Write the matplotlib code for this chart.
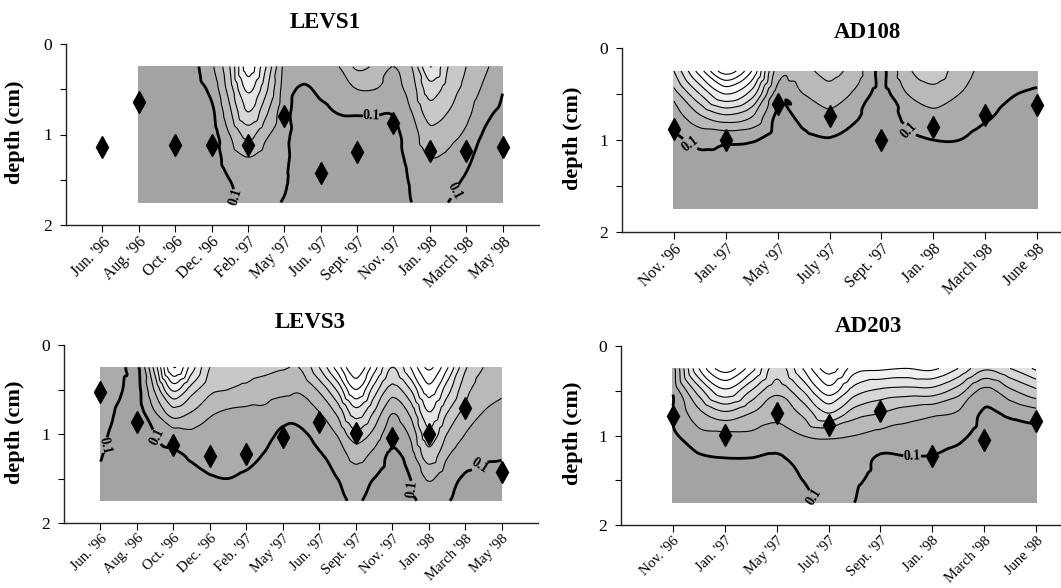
import numpy as np
import matplotlib
matplotlib.use("Agg")
import matplotlib.pyplot as plt
import matplotlib.tri as mtri

plt.rcParams['font.family'] = ['Liberation Serif', 'DejaVu Serif']

# ---------------- data ----------------
depth_rows = [0.25, 0.5, 0.75, 1.0, 1.25, 1.5, 1.75]

# LEVS1
levs1_dates = ["Jun. '96", "Aug. '96", "Oct. '96", "Dec. '96", "Feb. '97", "May '97",
               "Jun. '97", "Sept. '97", "Nov. '97", "Jan. '98", "March '98", "May '98"]
levs1_diamond_depth = [1.14, 0.64, 1.12, 1.12, 1.12, 0.80, 1.42, 1.19, 0.87, 1.18, 1.18, 1.14]
levs1_grid_cols = [2.0, 2.5, 3.0, 3.5, 4.0, 4.5, 5.0, 5.5, 6.0, 6.5, 7.0,
                   7.5, 8.0, 8.5, 9.0, 9.5, 10.0, 10.5, 11.0, 11.5, 12.0]
levs1_field = [  # one list per grid column, values at depth_rows
    [0.06, 0.06, 0.06, 0.05, 0.05, 0.05, 0.05],
    [0.06, 0.06, 0.06, 0.05, 0.05, 0.05, 0.05],
    [0.07, 0.06, 0.06, 0.05, 0.05, 0.05, 0.05],
    [0.08, 0.07, 0.06, 0.05, 0.05, 0.05, 0.05],
    [0.18, 0.13, 0.08, 0.06, 0.05, 0.05, 0.05],
    [0.40, 0.35, 0.28, 0.20, 0.15, 0.10, 0.08],
    [0.75, 0.62, 0.50, 0.33, 0.20, 0.15, 0.12],
    [0.50, 0.42, 0.32, 0.22, 0.16, 0.13, 0.11],
    [0.18, 0.16, 0.14, 0.13, 0.12, 0.11, 0.095],
    [0.14, 0.09, 0.06, 0.05, 0.05, 0.05, 0.05],
    [0.16, 0.12, 0.08, 0.06, 0.05, 0.05, 0.05],
    [0.20, 0.15, 0.105, 0.07, 0.06, 0.05, 0.05],
    [0.32, 0.20, 0.11, 0.07, 0.06, 0.05, 0.05],
    [0.28, 0.20, 0.11, 0.07, 0.06, 0.05, 0.05],
    [0.20, 0.17, 0.11, 0.08, 0.07, 0.06, 0.05],
    [0.30, 0.25, 0.20, 0.15, 0.13, 0.11, 0.10],
    [0.60, 0.45, 0.35, 0.27, 0.20, 0.15, 0.12],
    [0.40, 0.35, 0.30, 0.24, 0.18, 0.13, 0.10],
    [0.30, 0.27, 0.23, 0.18, 0.12, 0.09, 0.07],
    [0.22, 0.18, 0.13, 0.09, 0.07, 0.06, 0.05],
    [0.14, 0.105, 0.08, 0.06, 0.05, 0.05, 0.05],
]

# AD108
ad108_dates = ["Nov. '96", "Jan. '97", "May '97", "July '97", "Sept. '97",
               "Jan. '98", "March '98", "June '98"]
ad108_diamond_depth = [0.88, 1.00, 0.61, 0.74, 1.00, 0.86, 0.73, 0.62]
ad108_grid_cols = [1.0, 1.5, 2.0, 2.5, 3.0, 3.5, 4.0, 4.5, 5.0, 5.5, 6.0, 6.5, 7.0, 7.5, 8.0]
ad108_field = [
    [0.40, 0.25, 0.14, 0.07, 0.06, 0.05, 0.05],
    [0.75, 0.50, 0.28, 0.13, 0.08, 0.06, 0.05],
    [1.05, 0.70, 0.37, 0.12, 0.07, 0.06, 0.05],
    [0.80, 0.55, 0.30, 0.11, 0.07, 0.06, 0.05],
    [0.25, 0.15, 0.08, 0.06, 0.05, 0.05, 0.05],
    [0.27, 0.20, 0.13, 0.08, 0.06, 0.05, 0.05],
    [0.33, 0.26, 0.17, 0.095, 0.07, 0.05, 0.05],
    [0.25, 0.18, 0.11, 0.07, 0.06, 0.05, 0.05],
    [0.085, 0.07, 0.06, 0.05, 0.05, 0.05, 0.05],
    [0.28, 0.20, 0.12, 0.08, 0.06, 0.05, 0.05],
    [0.35, 0.26, 0.17, 0.10, 0.07, 0.05, 0.05],
    [0.25, 0.20, 0.15, 0.10, 0.07, 0.05, 0.05],
    [0.17, 0.14, 0.11, 0.07, 0.06, 0.05, 0.05],
    [0.14, 0.105, 0.08, 0.06, 0.05, 0.05, 0.05],
    [0.13, 0.09, 0.07, 0.06, 0.05, 0.05, 0.05],
]

# LEVS3
levs3_dates = levs1_dates
levs3_diamond_depth = [0.53, 0.86, 1.12, 1.25, 1.23, 1.03, 0.86, 0.99, 1.04, 1.00, 0.71, 1.43]
levs3_grid_cols = [1.0, 1.5, 2.0, 2.5, 3.0, 3.5, 4.0, 4.5, 5.0, 5.5, 6.0, 6.5,
                   7.0, 7.5, 8.0, 8.5, 9.0, 9.5, 10.0, 10.5, 11.0, 11.5, 12.0]
levs3_field = [
    [0.16, 0.15, 0.14, 0.125, 0.105, 0.085, 0.07],
    [0.14, 0.115, 0.09, 0.07, 0.06, 0.06, 0.06],
    [0.08, 0.07, 0.06, 0.05, 0.05, 0.05, 0.05],
    [0.45, 0.32, 0.20, 0.10, 0.07, 0.06, 0.05],
    [0.90, 0.62, 0.36, 0.16, 0.08, 0.07, 0.06],
    [0.65, 0.45, 0.30, 0.18, 0.11, 0.08, 0.07],
    [0.40, 0.33, 0.22, 0.16, 0.13, 0.095, 0.08],
    [0.34, 0.30, 0.19, 0.15, 0.13, 0.10, 0.08],
    [0.34, 0.28, 0.18, 0.15, 0.12, 0.09, 0.07],
    [0.33, 0.25, 0.18, 0.13, 0.095, 0.08, 0.07],
    [0.31, 0.23, 0.14, 0.085, 0.07, 0.06, 0.06],
    [0.31, 0.22, 0.14, 0.09, 0.07, 0.06, 0.06],
    [0.50, 0.32, 0.20, 0.13, 0.09, 0.07, 0.06],
    [0.75, 0.52, 0.33, 0.21, 0.14, 0.10, 0.08],
    [1.00, 0.80, 0.56, 0.37, 0.23, 0.15, 0.11],
    [0.75, 0.56, 0.40, 0.27, 0.17, 0.10, 0.07],
    [0.50, 0.36, 0.21, 0.14, 0.08, 0.06, 0.05],
    [0.70, 0.50, 0.33, 0.22, 0.15, 0.10, 0.08],
    [0.92, 0.76, 0.60, 0.47, 0.35, 0.21, 0.13],
    [0.72, 0.55, 0.41, 0.30, 0.21, 0.14, 0.105],
    [0.42, 0.34, 0.27, 0.20, 0.14, 0.09, 0.075],
    [0.30, 0.25, 0.20, 0.15, 0.11, 0.085, 0.07],
    [0.27, 0.22, 0.17, 0.13, 0.105, 0.085, 0.07],
]

# AD203
ad203_dates = ad108_dates
ad203_diamond_depth = [0.78, 0.99, 0.75, 0.88, 0.73, 1.23, 1.05, 0.84]
ad203_grid_cols = ad108_grid_cols
ad203_field = [
    [0.15, 0.12, 0.105, 0.08, 0.06, 0.05, 0.05],
    [0.70, 0.45, 0.27, 0.17, 0.09, 0.07, 0.06],
    [0.95, 0.68, 0.38, 0.18, 0.10, 0.07, 0.06],
    [0.75, 0.50, 0.30, 0.18, 0.10, 0.07, 0.06],
    [0.45, 0.33, 0.24, 0.15, 0.09, 0.07, 0.06],
    [0.70, 0.50, 0.32, 0.20, 0.13, 0.10, 0.08],
    [0.95, 0.75, 0.50, 0.22, 0.15, 0.12, 0.11],
    [0.75, 0.55, 0.35, 0.20, 0.14, 0.11, 0.10],
    [0.72, 0.48, 0.30, 0.17, 0.09, 0.08, 0.06],
    [0.70, 0.46, 0.25, 0.16, 0.095, 0.07, 0.06],
    [0.72, 0.46, 0.22, 0.14, 0.095, 0.07, 0.06],
    [0.60, 0.35, 0.19, 0.12, 0.08, 0.06, 0.05],
    [0.42, 0.17, 0.09, 0.07, 0.06, 0.05, 0.05],
    [0.50, 0.28, 0.12, 0.07, 0.06, 0.05, 0.05],
    [0.62, 0.38, 0.16, 0.07, 0.06, 0.05, 0.05],
]

thin_levels = [0.2, 0.3, 0.4, 0.5, 0.6, 0.7, 0.8, 0.9, 1.0]
thick_levels = [0.1]
fill_levels = [-1.0, 0.1, 0.2, 0.3, 0.4, 0.5, 0.6, 0.7, 5.0]
fill_grays = ['#a3a3a3', '#ababab', '#b9b9b9', '#c8c8c8', '#d6d6d6', '#e4e4e4', '#f1f1f1', '#ffffff']

# ---------------- figure ----------------
W, H = 1061, 588
fig = plt.figure(figsize=(W / 100, H / 100), dpi=100)


def px_axes(left, top, right, bottom):
    return fig.add_axes([left / W, 1 - bottom / H, (right - left) / W, (bottom - top) / H])


def draw_panel(ax, dates, diamonds, grid_cols, field, xmax, title, title_px, ylab_x, xlab_size):
    xs = np.asarray(grid_cols, dtype=float)
    ds = np.asarray(depth_rows, dtype=float)
    Z = np.asarray(field, dtype=float).T  # rows = depth, cols = x
    X, D = np.meshgrid(xs, ds)
    tri = mtri.Triangulation(X.ravel(), D.ravel())
    interp = mtri.CubicTriInterpolator(tri, Z.ravel(), kind='geom')
    refiner = mtri.UniformTriRefiner(tri)
    tri_f, z_f = refiner.refine_field(Z.ravel(), triinterpolator=interp, subdiv=4)

    ax.tricontourf(tri_f, z_f, levels=fill_levels, colors=fill_grays, zorder=1)
    ax.tricontour(tri_f, z_f, levels=thin_levels, colors='black', linewidths=0.8, zorder=2)
    cs = ax.tricontour(tri_f, z_f, levels=thick_levels, colors='black', linewidths=2.0, zorder=3)
    lbls = ax.clabel(cs, fmt='%.1f', fontsize=10, inline=True, inline_spacing=2)
    for t in lbls:
        t.set_fontweight('bold')

    pos = np.arange(1, len(dates) + 1)
    ax.plot(pos, diamonds, linestyle='none', marker='d', markersize=11,
            color='black', zorder=5, clip_on=False)

    ax.set_xlim(0, xmax)
    ax.set_ylim(2, 0)
    ax.set_yticks([0, 0.5, 1, 1.5, 2])
    ax.set_yticklabels(['0', '', '1', '', '2'])
    ax.set_xticks(pos)
    ax.set_xticklabels(dates, rotation=45, ha='right', va='top', rotation_mode='anchor')
    ax.tick_params(axis='x', direction='out', length=5, width=0.8, pad=1.5, labelsize=xlab_size)
    ax.tick_params(axis='y', direction='out', length=4, width=0.8, pad=6, labelsize=12.5)
    for s in ('top', 'right'):
        ax.spines[s].set_visible(False)
    for s in ('left', 'bottom'):
        ax.spines[s].set_linewidth(1.0)
        ax.spines[s].set_color('#222222')
    ax.set_ylabel('depth (cm)', fontsize=16, fontweight='bold')
    ax.yaxis.set_label_coords(ylab_x, 0.51)
    fig.text(title_px[0] / W, 1 - title_px[1] / H, title, ha='center', va='center',
             fontsize=16.5, fontweight='bold')


ax1 = px_axes(66, 44, 539, 225)
draw_panel(ax1, levs1_dates, levs1_diamond_depth, levs1_grid_cols, levs1_field,
           13.0, 'LEVS1', (325, 23), -0.087, 11.3)

ax2 = px_axes(622, 48, 1061, 232)
draw_panel(ax2, ad108_dates, ad108_diamond_depth, ad108_grid_cols, ad108_field,
           8.46, 'AD108', (867, 33), -0.089, 11.3)

ax3 = px_axes(64, 345, 538, 523)
draw_panel(ax3, levs3_dates, levs3_diamond_depth, levs3_grid_cols, levs3_field,
           13.0, 'LEVS3', (310, 323), -0.083, 10.5)

ax4 = px_axes(621, 346, 1061, 525)
draw_panel(ax4, ad203_dates, ad203_diamond_depth, ad203_grid_cols, ad203_field,
           8.48, 'AD203', (868, 327), -0.086, 10.5)

fig.savefig('out.png', dpi=100)
